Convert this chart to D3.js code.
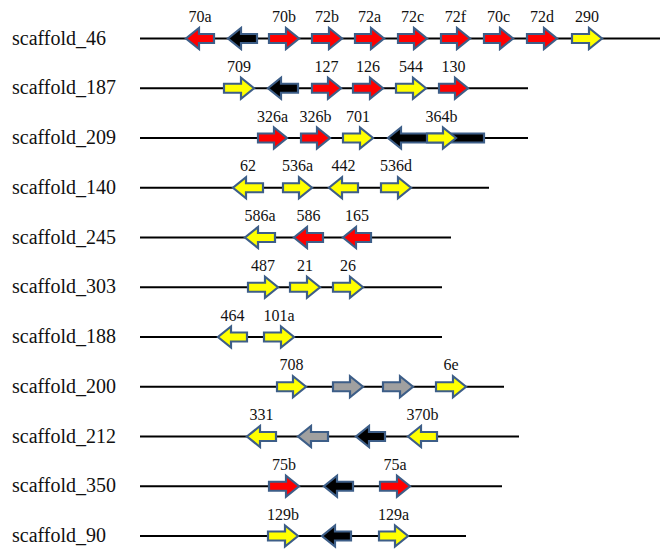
<!DOCTYPE html>
<html>
<head>
<meta charset="utf-8">
<script src="https://cdn.jsdelivr.net/npm/d3@7"></script>
<style>
  html, body { margin: 0; padding: 0; background: #fff; }
  svg { display: block; }
</style>
</head>
<body>
<div id="chart"></div>
<script>
// ---- Data (positions in kb along each scaffold) ----
const scaffolds = ["scaffold_46","scaffold_187","scaffold_209","scaffold_140","scaffold_245",
                   "scaffold_303","scaffold_188","scaffold_200","scaffold_212","scaffold_350","scaffold_90"];
const scaffoldLengths = [26.0, 19.4, 19.4, 17.45, 15.55, 15.1, 15.1, 18.2, 18.95, 18.1, 16.3];

const geneScaffold = [
  "scaffold_46","scaffold_46","scaffold_46","scaffold_46","scaffold_46","scaffold_46","scaffold_46","scaffold_46","scaffold_46","scaffold_46",
  "scaffold_187","scaffold_187","scaffold_187","scaffold_187","scaffold_187","scaffold_187",
  "scaffold_209","scaffold_209","scaffold_209","scaffold_209","scaffold_209",
  "scaffold_140","scaffold_140","scaffold_140","scaffold_140",
  "scaffold_245","scaffold_245","scaffold_245",
  "scaffold_303","scaffold_303","scaffold_303",
  "scaffold_188","scaffold_188",
  "scaffold_200","scaffold_200","scaffold_200","scaffold_200",
  "scaffold_212","scaffold_212","scaffold_212","scaffold_212",
  "scaffold_350","scaffold_350","scaffold_350",
  "scaffold_90","scaffold_90","scaffold_90"
];
const geneStart = [
  2.3, 4.4, 6.45, 8.6, 10.75, 12.9, 15.05, 17.2, 19.35, 21.6,
  4.2, 6.4, 8.6, 10.65, 12.8, 14.95,
  5.9, 8.05, 10.15, 12.4, 14.35,
  4.65, 7.15, 9.45, 12.05,
  5.25, 7.7, 10.15,
  5.4, 7.5, 9.65,
  3.9, 6.2,
  6.85, 9.65, 12.15, 14.8,
  5.35, 7.9, 10.8, 13.4,
  6.45, 9.2, 12.0,
  6.4, 9.1, 11.95
];
const geneEnd = [
  3.7, 5.85, 7.95, 10.1, 12.2, 14.35, 16.5, 18.65, 20.85, 23.1,
  5.7, 7.9, 10.05, 12.15, 14.3, 16.4,
  7.35, 9.5, 11.65, 17.2, 15.8,
  6.15, 8.6, 10.9, 13.55,
  6.75, 9.15, 11.55,
  6.9, 9.0, 11.15,
  5.35, 7.7,
  8.3, 11.15, 13.65, 16.3,
  6.8, 9.4, 12.25, 14.85,
  7.95, 10.65, 13.5,
  7.9, 10.55, 13.4
];
const geneStrand = [
  "-","-","+","+","+","+","+","+","+","+",
  "+","-","+","+","+","+",
  "+","+","+","-","+",
  "-","+","-","+",
  "-","-","-",
  "+","+","+",
  "-","+",
  "+","+","+","+",
  "-","-","-","-",
  "+","-","+",
  "+","-","+"
];
const geneType = [
  "red","black","red","red","red","red","red","red","red","yellow",
  "yellow","black","red","red","yellow","red",
  "red","red","yellow","black","yellow",
  "yellow","yellow","yellow","yellow",
  "yellow","red","red",
  "yellow","yellow","yellow",
  "yellow","yellow",
  "yellow","gray","gray","yellow",
  "yellow","gray","black","yellow",
  "red","black","red",
  "yellow","black","yellow"
];
const geneLabel = [
  "70a","","70b","72b","72a","72c","72f","70c","72d","290",
  "709","","127","126","544","130",
  "326a","326b","701","","364b",
  "62","536a","442","536d",
  "586a","586","165",
  "487","21","26",
  "464","101a",
  "708","","","6e",
  "331","","","370b",
  "75b","","75a",
  "129b","","129a"
];

// ---- Styles ----
const typeColors = { red: "#ff0000", yellow: "#ffff00", black: "#000000", gray: "#a0a0a0" };
const strokeColor = "#3d5e88";

const W = 661, H = 550;
const svg = d3.select("#chart").append("svg").attr("width", W).attr("height", H);

const x = d3.scaleLinear().domain([0, 26]).range([140, 660]);
const y = d3.scalePoint().domain(scaffolds).range([38.5, 536]);

const genes = geneScaffold.map((s, i) => ({
  scaffold: s, start: geneStart[i], end: geneEnd[i], strand: geneStrand[i],
  type: geneType[i], label: geneLabel[i]
}));

// scaffold labels
svg.append("g").selectAll("text").data(scaffolds).join("text")
  .attr("x", 12).attr("y", d => y(d) + 6)
  .attr("font-family", "'Liberation Serif', 'Times New Roman', serif")
  .attr("font-size", 20).attr("fill", "#111")
  .text(d => d);

// scaffold lines
svg.append("g").selectAll("line").data(scaffolds).join("line")
  .attr("x1", x(0)).attr("x2", (d, i) => x(scaffoldLengths[i]))
  .attr("y1", d => y(d)).attr("y2", d => y(d))
  .attr("stroke", "#000").attr("stroke-width", 2.2);

// arrow path
const bodyHalf = 4.5, headHalf = 10.5, headLen = 13;
function arrowPath(g) {
  const x0 = x(g.start), x1 = x(g.end), cy = y(g.scaffold);
  const p = d3.path();
  if (g.strand === "+") {
    const hb = x1 - headLen;
    p.moveTo(x0, cy - bodyHalf);
    p.lineTo(hb, cy - bodyHalf);
    p.lineTo(hb, cy - headHalf);
    p.lineTo(x1, cy);
    p.lineTo(hb, cy + headHalf);
    p.lineTo(hb, cy + bodyHalf);
    p.lineTo(x0, cy + bodyHalf);
  } else {
    const hb = x0 + headLen;
    p.moveTo(x1, cy - bodyHalf);
    p.lineTo(hb, cy - bodyHalf);
    p.lineTo(hb, cy - headHalf);
    p.lineTo(x0, cy);
    p.lineTo(hb, cy + headHalf);
    p.lineTo(hb, cy + bodyHalf);
    p.lineTo(x1, cy + bodyHalf);
  }
  p.closePath();
  return p.toString();
}

svg.append("g").selectAll("path").data(genes).join("path")
  .attr("d", arrowPath)
  .attr("fill", d => typeColors[d.type])
  .attr("stroke", strokeColor).attr("stroke-width", 2.2)
  .attr("stroke-linejoin", "miter");

// gene labels
svg.append("g").selectAll("text").data(genes.filter(d => d.label)).join("text")
  .attr("x", d => x((d.start + d.end) / 2))
  .attr("y", d => y(d.scaffold) - 16.5)
  .attr("text-anchor", "middle")
  .attr("font-family", "'Liberation Serif', 'Times New Roman', serif")
  .attr("font-size", 16).attr("fill", "#111")
  .text(d => d.label);
</script>
</body>
</html>
